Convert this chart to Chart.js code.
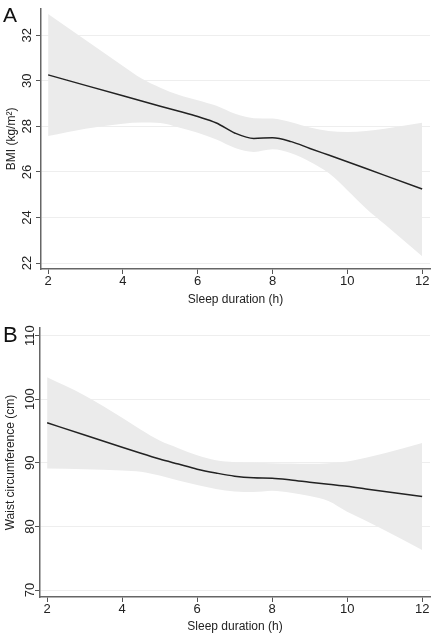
<!DOCTYPE html>
<html>
<head>
<meta charset="utf-8">
<script src="https://cdn.jsdelivr.net/npm/chart.js@4.4.1/dist/chart.umd.min.js"></script>
<style>
body{margin:0;background:#fff;width:432px;height:635px;overflow:hidden;position:relative;font-family:Arial,"Liberation Sans",sans-serif;}
.panel{position:absolute;left:0;width:432px;}
.tag{position:absolute;left:3px;line-height:1;color:#111;}
</style>
</head>
<body>
<div class="panel" style="top:0;height:317px"><canvas id="bmiChart"></canvas></div>
<div class="panel" style="top:317px;height:318px"><canvas id="waistChart"></canvas></div>
<div class="tag" style="top:4px;font-size:21px">A</div>
<div class="tag" style="top:324px;font-size:22px">B</div>
<script>
var sleepHours = [2, 3, 4, 4.5, 5, 5.5, 6, 6.5, 7, 7.5, 8, 8.5, 9, 9.5, 10, 10.5, 11, 12];

// panel A - BMI (kg/m2)
var bmiFit   = [30.26, 29.80, 29.34, 29.11, 28.88, 28.66, 28.43, 28.15, 27.70, 27.47, 27.50, 27.33, 27.03, 26.74, 26.45, 26.15, 25.85, 25.25];
var bmiUpper = [32.93, 31.79, 30.65, 30.10, 29.70, 29.38, 29.15, 28.90, 28.55, 28.36, 28.34, 28.18, 27.95, 27.80, 27.75, 27.80, 27.90, 28.16];
var bmiLower = [27.58, 27.90, 28.12, 28.17, 28.15, 27.95, 27.72, 27.42, 27.05, 26.88, 27.00, 26.82, 26.45, 25.95, 25.20, 24.40, 23.70, 22.30];

// panel B - waist circumference (cm)
var waistFit   = [96.3, 94.37, 92.45, 91.5, 90.6, 89.8, 89.0, 88.4, 87.9, 87.65, 87.58, 87.3, 86.95, 86.62, 86.3, 85.9, 85.5, 84.7];
var waistUpper = [103.45, 100.6, 97.1, 95.2, 93.5, 92.3, 91.2, 90.4, 90.1, 90.0, 89.95, 89.9, 89.85, 89.95, 90.2, 90.8, 91.5, 93.1];
var waistLower = [89.1, 89.0, 88.8, 88.6, 88.0, 87.2, 86.5, 85.9, 85.5, 85.4, 85.6, 85.3, 84.8, 84.0, 82.3, 80.9, 79.4, 76.3];

Chart.defaults.font.family = 'Arial, "Liberation Sans", sans-serif';
Chart.defaults.color = '#222';

//turn one series into x/y points
function toPoints(values){
	return sleepHours.map(function(h, i){ return {x: h, y: values[i]}; });
}

function buildPanel(id, fit, upper, lower, yTitle, yMin, yMax, yStep, box){
	new Chart(document.getElementById(id), {
		type: 'line',
		data: {
			datasets: [{
				data: toPoints(upper),
				borderColor: 'rgba(0,0,0,0)',
				borderWidth: 0,
				backgroundColor: '#ebebeb',
				fill: '+1',
				pointRadius: 0,
				cubicInterpolationMode: 'monotone'
			}, {
				data: toPoints(lower),
				borderColor: 'rgba(0,0,0,0)',
				borderWidth: 0,
				fill: false,
				pointRadius: 0,
				cubicInterpolationMode: 'monotone'
			}, {
				data: toPoints(fit),
				borderColor: '#222',
				borderWidth: 1.5,
				fill: false,
				pointRadius: 0,
				cubicInterpolationMode: 'monotone'
			}]
		},
		options: {
			responsive: true,
			maintainAspectRatio: false,
			animation: false,
			layout: {padding: {top: box.top, right: box.right, left: 0, bottom: 0}},
			plugins: {
				legend: {display: false},
				tooltip: {enabled: false},
				filler: {drawTime: 'beforeDatasetsDraw'} //band goes under the fitted line
			},
			scales: {
				x: {
					type: 'linear',
					min: 1.81,
					max: 12.21,
					afterFit: function(s){ s.height = box.xHeight; },
					ticks: {stepSize: 2, includeBounds: false, padding: 0, maxRotation: 0, font: {size: 13}},
					grid: {drawOnChartArea: false, tickLength: 5, tickColor: '#555'},
					border: {color: '#666', width: 1.5},
					title: {display: true, text: 'Sleep duration (h)', font: {size: 12}, padding: {top: 0, bottom: box.xTitlePad}}
				},
				y: {
					min: yMin,
					max: yMax,
					afterFit: function(s){ s.width = box.yWidth; },
					ticks: {stepSize: yStep, includeBounds: false, minRotation: 90, maxRotation: 90, crossAlign: 'center', padding: box.yTickPad, font: {size: 13}},
					grid: {color: '#eeeeee', tickLength: 5, tickColor: '#555'},
					border: {color: '#666', width: 1.5},
					title: {display: true, text: yTitle, font: {size: 12}, padding: {top: box.yTitlePad, bottom: 0}}
				}
			}
		}
	});
}

buildPanel('bmiChart', bmiFit, bmiUpper, bmiLower, 'BMI (kg/m\u00b2)', 21.74, 33.16, 2,
	{top: 3, right: 2, xHeight: 48, yWidth: 41, xTitlePad: 10, yTitlePad: 4, yTickPad: 1});
buildPanel('waistChart', waistFit, waistUpper, waistLower, 'Waist circumference (cm)', 68.9, 111.2, 10,
	{top: 11, right: 2, xHeight: 38, yWidth: 40, xTitlePad: 1, yTitlePad: 3, yTickPad: -5.8});
</script>
</body>
</html>
